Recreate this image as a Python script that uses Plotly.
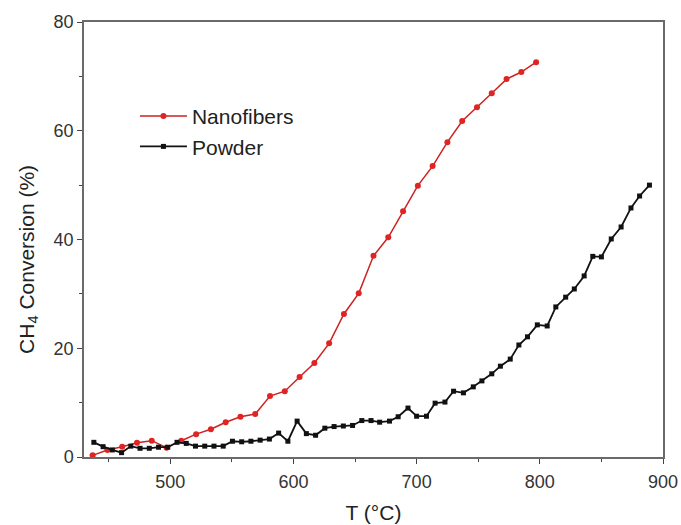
import plotly.graph_objects as go

# Nanofibers (red circles)
nano_T = [437, 449, 461, 473, 485, 497, 509, 521, 533, 545, 557, 569, 581, 593, 605,
          617, 629, 641, 653, 665, 677, 689, 701, 713, 725, 737, 749, 761, 773, 785, 797]
nano_X = [0.3, 1.3, 1.9, 2.6, 3.0, 1.7, 3.0, 4.2, 5.1, 6.4, 7.4, 7.9, 11.2, 12.1, 14.7,
          17.3, 20.9, 26.3, 30.1, 37.0, 40.4, 45.2, 49.9, 53.5, 57.9, 61.8, 64.3, 66.9, 69.5, 70.8, 72.6]

# Powder (black squares)
pow_T = [438, 445.5, 453, 460.5, 468, 475.5, 483, 490.5, 498, 505.5, 513, 520.5, 528, 535.5, 543,
         550.5, 558, 565.5, 573, 580.5, 588, 595.5, 603, 610.5, 618, 625.5, 633, 640.5, 648, 655.5,
         663, 670, 678, 685, 693, 700, 708, 715, 723, 730, 738, 746, 753, 761, 768,
         776, 783, 790, 798, 806, 813, 821, 828, 836, 843, 850, 858, 866, 874, 881, 889]
pow_X = [2.7, 1.9, 1.3, 0.8, 2.0, 1.6, 1.6, 1.8, 1.8, 2.7, 2.5, 2.0, 2.0, 2.0, 2.0,
         2.9, 2.8, 2.9, 3.1, 3.3, 4.4, 2.9, 6.6, 4.3, 4.0, 5.3, 5.6, 5.7, 5.8, 6.7,
         6.7, 6.4, 6.6, 7.4, 9.0, 7.5, 7.5, 9.9, 10.1, 12.1, 11.8, 12.9, 14.0, 15.3, 16.7,
         18.0, 20.6, 22.1, 24.3, 24.1, 27.6, 29.4, 30.9, 33.3, 36.9, 36.8, 40.1, 42.3, 45.8, 48.0, 50.0]

x_ticks = [500, 600, 700, 800, 900]
y_ticks = [0, 20, 40, 60, 80]

FONT = "Liberation Sans, Arial, sans-serif"

fig = go.Figure()
fig.add_trace(go.Scatter(
    x=nano_T, y=nano_X, mode="lines+markers", name="Nanofibers",
    line=dict(color="#cc2222", width=1.5),
    marker=dict(symbol="circle", size=6, color="#e02424"),
))
fig.add_trace(go.Scatter(
    x=pow_T, y=pow_X, mode="lines+markers", name="Powder",
    line=dict(color="#111111", width=1.8),
    marker=dict(symbol="square", size=5, color="#111111"),
))

axis_common = dict(
    showgrid=False, zeroline=False, showline=True, linecolor="#6a6a6a", linewidth=1.5,
    mirror=True, ticks="outside", ticklen=5, tickwidth=1.3, tickcolor="#444444",
    tickfont=dict(family=FONT, size=18, color="#333333"),
    automargin=False,
)

fig.update_xaxes(
    range=[430, 900], tickvals=x_ticks, ticklabelstandoff=3,
    minor=dict(ticks="outside", ticklen=3, tickwidth=1.2, tickcolor="#444444", dtick=50, tick0=450),
    title=dict(text="T (°C)", font=dict(family=FONT, size=21, color="#222222"), standoff=14),
    **axis_common,
)
fig.update_yaxes(
    range=[0, 80], tickvals=y_ticks,
    minor=dict(ticks="outside", ticklen=3, tickwidth=1.2, tickcolor="#444444", dtick=10, tick0=10),
    **axis_common,
)

fig.add_annotation(
    text="CH<sub>4</sub> Conversion (%)", textangle=-90,
    xref="paper", yref="paper", x=-0.0967, y=0.453,
    xanchor="center", yanchor="middle", showarrow=False,
    font=dict(family=FONT, size=21, color="#222222"),
)

fig.update_layout(
    width=681, height=525,
    margin=dict(l=84, r=18, t=22, b=68),
    plot_bgcolor="white", paper_bgcolor="white",
    showlegend=True,
    legend=dict(
        x=0.088, y=0.83, xanchor="left", yanchor="top",
        bgcolor="rgba(0,0,0,0)",
        font=dict(family=FONT, size=21, color="#222222"),
        itemwidth=47, tracegroupgap=0,
    ),
)

fig.write_html("out.html")
